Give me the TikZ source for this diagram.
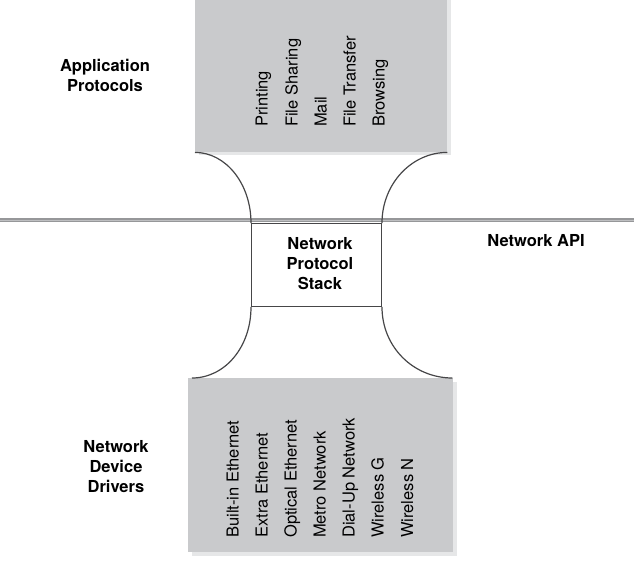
\documentclass[tikz,border=0pt]{standalone}
\usepackage{fontspec}
\setmainfont{TeX Gyre Heros}
\usetikzlibrary{calc}
\definecolor{boxgray}{RGB}{201,202,204}
\definecolor{shadowgray}{RGB}{230,231,232}
\definecolor{apigray}{RGB}{150,151,153}
\definecolor{apilight}{RGB}{190,191,193}
\definecolor{linegray}{RGB}{70,70,72}
\begin{document}
\begin{tikzpicture}[x=1pt,y=-1pt,
  every node/.style={font=\fontsize{16.5}{20}\selectfont},
  lbl/.style={font=\bfseries\fontsize{16.5}{20}\selectfont, align=center, inner sep=0},
  grayarea/.style={fill=boxgray, draw=none, inner sep=0, anchor=north west},
  item/.style={rotate=90, anchor=base west, inner sep=0},
  joint/.style={draw=linegray, line width=1.2pt},
]
\useasboundingbox (0,0) rectangle (634,565);
% API line
\coordinate (apiL) at (0,220);
\coordinate (apiR) at (634,220);
\draw[apigray, line width=4.5pt] (apiL) -- (apiR);
\draw[apilight, line width=1pt] (apiL) -- (apiR);
% top box
\fill[shadowgray] (199,0) rectangle (451,155);
\node[grayarea, minimum width=252pt, minimum height=152pt] (app) at (195,0) {};
% bottom box
\fill[shadowgray] (192,382) rectangle (457,556);
\node[grayarea, minimum width=265pt, minimum height=174pt] (drv) at (188,378) {};
% stack box
\node[draw=linegray, line width=1pt, fill=white, minimum width=130pt, minimum height=83pt, anchor=north west, inner sep=0] (stack) at (251,223) {};
\node[lbl] (stacklbl) at (320,264) {Network\\Protocol\\Stack};
% joints
\draw[joint] (app.south west) .. controls +(31,0) and +(0,-39) .. (stack.north west);
\draw[joint] (app.south east) .. controls +(-36,0) and +(0,-39) .. (stack.north east);
\draw[joint] (stack.south west) .. controls +(0,40) and +(33,0) .. ($(drv.north west)+(4,0)$);
\draw[joint] (stack.south east) .. controls +(0,40) and +(-39,0) .. ($(drv.north east)+(-1,0)$);
% labels
\node[lbl] (applbl) at (105,75) {Application\\Protocols};
\node[lbl] (apilbl) at (536,241) {Network API};
\node[lbl] (drvlbl) at (116,467) {Network\\Device\\Drivers};
% top items
\node[item] (i1) at (267.5,127) {Printing};
\node[item] (i2) at (297.5,127) {File Sharing};
\node[item] (i3) at (326.5,127) {Mail};
\node[item] (i4) at (355.5,127) {File Transfer};
\node[item] (i5) at (384.5,127) {Browsing};
% bottom items
\node[item] (d1) at (238.5,538) {Built-in Ethernet};
\node[item] (d2) at (267.5,538) {Extra Ethernet};
\node[item] (d3) at (296.5,538) {Optical Ethernet};
\node[item] (d4) at (325.5,538) {Metro Network};
\node[item] (d5) at (354.5,538) {Dial-Up Network};
\node[item] (d6) at (383.5,538) {Wireless G};
\node[item] (d7) at (413,538) {Wireless N};
\end{tikzpicture}
\end{document}
